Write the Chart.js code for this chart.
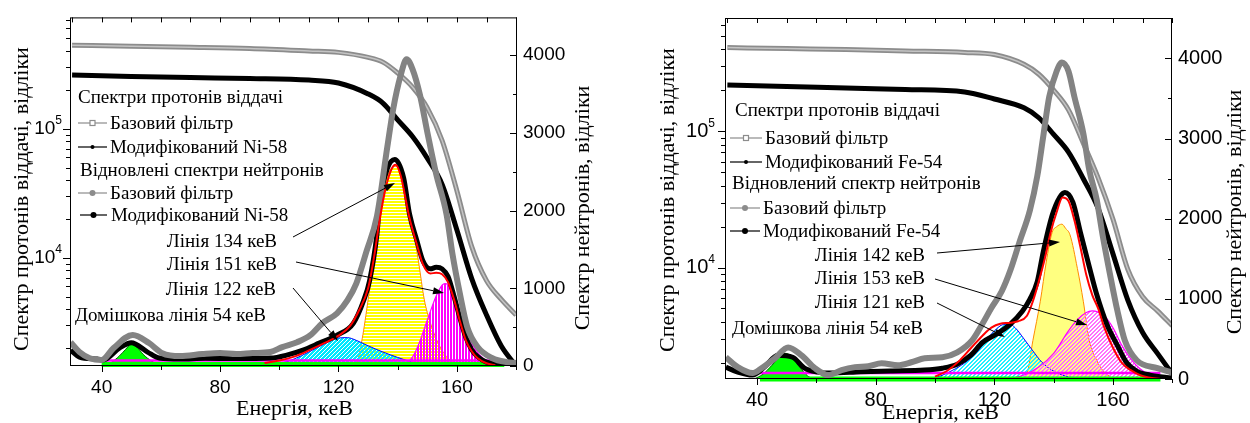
<!DOCTYPE html>
<html>
<head>
<meta charset="utf-8">
<script src="https://cdn.jsdelivr.net/npm/chart.js@4.4.1/dist/chart.umd.min.js"></script>
<style>
html, body { margin: 0; padding: 0; background: #fff; }
#wrap { position: relative; width: 1250px; height: 423px; overflow: hidden; }
canvas { position: absolute; top: 0; }
#cNi { left: 0; }
#cFe { left: 625px; }
</style>
</head>
<body>
<div id="wrap">
  <canvas id="cNi" width="625" height="423"></canvas>
  <canvas id="cFe" width="625" height="423"></canvas>
</div>
<script>
// ---- tick values ----
const energyTicks = [40, 60, 80, 100, 120, 140, 160, 180];
const neutronTicks = [0, 500, 1000, 1500, 2000, 2500, 3000, 3500, 4000];

// ---- proton recoil spectra (left log axis) ----
const protonE = [30, 50, 70, 90, 110, 120, 130, 135, 140, 145, 150, 155, 160, 165, 170, 175, 180];
const niProtonBase = [443000, 436000, 428000, 418000, 400000, 390000, 357000, 328000, 270000, 210000, 145000, 81000, 33000, 12200, 6650, 4750, 3600];
const niProtonMod = [260000, 254000, 249000, 245000, 238000, 226000, 186000, 158000, 117000, 87000, 59000, 37000, 16400, 6900, 3600, 2070, 1450];
const feProtonBase = [413000, 406000, 400000, 390000, 380000, 367000, 311000, 263000, 201000, 144000, 82000, 45600, 22600, 9700, 6100, 4800, 3730];
const feProtonMod = [219000, 214000, 208000, 203000, 195000, 173000, 149000, 126000, 95000, 70500, 44900, 27200, 12600, 5770, 3330, 2340, 1650];

// ---- Ni-58 neutron spectra (right linear axis) ----
const niNeutronBaseE = [29.5, 32.5, 36, 40, 44, 50.5, 56, 60.5, 66.5, 74, 80, 85.5, 91, 97, 101, 106, 110.5, 114.5, 119.5, 123, 126, 129.5, 133, 136.5, 138.5, 141, 143, 145, 147.5, 150, 153, 156.5, 158.5, 161, 163.5, 167, 172, 177, 180];
const niNeutronBase = [306, 180, 100, 77, 230, 400, 295, 165, 128, 153, 166, 153, 166, 180, 243, 306, 396, 549, 677, 843, 1060, 1480, 1930, 2820, 3310, 3740, 3946, 3820, 3490, 3010, 2470, 1950, 1440, 930, 500, 245, 100, 50, 40];
const niNeutronModE = [29.5, 32.5, 38.5, 40.5, 46, 50, 55.5, 59.5, 66.5, 75, 85, 97, 102.5, 108, 113.5, 119.5, 125, 128.5, 130.5, 133, 134, 136.5, 139, 142, 144, 146.5, 148.5, 151, 153, 155, 157, 159, 161, 163, 165, 167, 170, 174, 180];
const niNeutronMod = [204, 115, 89, 77, 230, 300, 179, 102, 89, 100, 95, 102, 140, 204, 294, 396, 549, 843, 1098, 1700, 2120, 2541, 2656, 2420, 1954, 1609, 1354, 1250, 1270, 1250, 1150, 900, 620, 370, 210, 120, 50, 20, 0];
const niFitE = [95, 100, 105, 110, 115, 120, 124, 127, 130, 132, 134, 136, 138, 139.3, 141, 144, 146.5, 148.5, 151, 153, 155, 157, 159, 161, 163, 165, 167, 170, 173];
const niFit = [40, 70, 120, 200, 290, 390, 520, 720, 1000, 1400, 1900, 2300, 2540, 2590, 2450, 1900, 1560, 1310, 1190, 1200, 1180, 1080, 860, 580, 330, 190, 100, 35, 8];
const niLine134E = [124, 126, 128, 130, 132, 134, 136, 138, 139.5, 141, 143, 145, 147, 149, 151, 153, 155, 157, 160, 163];
const niLine134 = [0, 30, 350, 850, 1400, 2000, 2380, 2550, 2570, 2480, 2200, 1800, 1350, 850, 560, 350, 200, 100, 25, 0];
const niLine151E = [140, 143, 145, 147, 149, 151, 153, 155, 156, 158, 160, 162, 164, 166, 168, 170, 173, 176];
const niLine151 = [0, 40, 115, 270, 480, 700, 900, 1040, 1060, 990, 750, 520, 360, 230, 130, 70, 15, 0];
const niLine122E = [95, 100, 105, 110, 115, 120, 123, 126, 130, 135, 140, 145, 150, 155];
const niLine122 = [0, 30, 90, 180, 280, 360, 365, 330, 260, 180, 110, 50, 15, 0];
const niLine54E = [40, 43, 46, 48, 50, 52, 54, 57, 60, 62];
const niLine54 = [0, 40, 130, 210, 280, 240, 150, 60, 10, 0];
const niBaseE = [40, 176];
const niBaseGreen = [20, 20];
const niBaseMagenta = [70, 70];

// ---- Fe-54 neutron spectra ----
const feNeutronBaseE = [29.5, 33.5, 38.5, 41.5, 46, 50.5, 55, 59.5, 64, 68.5, 73, 77.5, 82, 87.5, 92, 96.5, 102.5, 107.5, 112.5, 116, 119, 122.5, 125.5, 128.5, 132, 134.5, 136.5, 138.5, 141, 142.8, 145, 147, 150, 152, 154.5, 156.5, 159, 161.5, 164, 168, 175, 180];
const feNeutronBase = [271, 148, 74, 135, 258, 394, 295, 135, 49, 111, 148, 160, 197, 172, 209, 258, 271, 332, 480, 689, 886, 1095, 1366, 1711, 2105, 2535, 3028, 3520, 3840, 3950, 3840, 3520, 3065, 2609, 2240, 1797, 1305, 849, 480, 234, 135, 80];
const feNeutronModE = [29.5, 33.5, 38.5, 42.5, 47, 52, 56, 60.5, 65, 75, 85, 96.5, 102.5, 107.5, 112, 116, 121, 125.5, 129.5, 132, 134.5, 136.5, 139.5, 142, 143.8, 146.5, 149, 152, 154.5, 158, 161.5, 164.5, 168, 172.5, 180];
const feNeutronMod = [148, 86, 49, 148, 295, 271, 135, 86, 74, 90, 100, 111, 135, 185, 295, 455, 566, 689, 849, 997, 1218, 1588, 2043, 2265, 2326, 2203, 1834, 1403, 1058, 677, 418, 209, 98, 49, 12];
const feFitE = [100, 104, 108, 112, 116, 119, 122, 125, 128, 131, 133, 135, 137, 139, 141, 143, 145, 147, 149, 151, 153, 155, 157, 160, 163, 166, 169, 172, 176];
const feFit = [30, 100, 220, 380, 540, 640, 690, 700, 720, 790, 970, 1220, 1500, 1830, 2080, 2265, 2220, 1980, 1650, 1300, 1050, 880, 650, 390, 200, 110, 50, 20, 0];
const feLine142E = [128, 131, 133, 135.5, 137.5, 139.5, 141, 142.8, 144, 145.5, 148, 150, 152, 154.5, 156.5, 160];
const feLine142 = [0, 74, 480, 970, 1460, 1830, 1900, 1932, 1880, 1800, 1380, 970, 480, 234, 110, 0];
const feLine153E = [125, 130, 135, 140, 145, 148, 151, 153, 155, 157, 160, 163, 166, 169, 172, 176, 178];
const feLine153 = [0, 50, 150, 320, 600, 740, 830, 850, 835, 790, 640, 420, 250, 130, 60, 15, 0];
const feLine121E = [98, 102, 106, 110, 114, 117, 120, 123, 125, 127, 130, 133, 136, 139, 142, 146, 150];
const feLine121 = [0, 40, 110, 200, 330, 470, 600, 680, 685, 640, 500, 350, 210, 120, 60, 20, 0];
const feLine54E = [39, 42, 45, 48, 49.5, 51, 53, 55, 57, 59];
const feLine54 = [0, 60, 170, 290, 320, 300, 220, 120, 40, 0];
const feBaseE = [41, 176];
const feBaseGreen = [0, 0];
const feBaseMagenta = [75, 75];

// ---- texts ----
const xTitle = 'Енергія, кеВ';
const yTitle = 'Спектр протонів віддачі, відліки';
const y2Title = 'Спектр нейтронів, відліки';

const SERIF = "'Liberation Serif', 'Times New Roman', serif";
const SANS = "'Liberation Sans', Arial, sans-serif";

// layout of each panel (canvas-local pixels)
const niLayout = {
  xMin: 29.3, xMax: 180.3, yMin: 1450, yMax: 728000, y2Max: 4485,
  yW: 70, y2W: 108, xH: 57, top: 15, tickSize: 19, xPad: 10, powGap: 8,
  yTitleX: 22, yTitleY: 199, y2TitleX: 583, y2TitleY: 208, xTitleY: 415, xTitleDX: 1,
  texts: [
    {t: 'Спектри протонів віддачі', x: 78, y: 103},
    {t: 'Базовий фільтр', x: 110, y: 129},
    {t: 'Модифікований Ni-58', x: 110, y: 153},
    {t: 'Відновлені спектри нейтронів', x: 80, y: 176},
    {t: 'Базовий фільтр', x: 110, y: 199},
    {t: 'Модифікований Ni-58', x: 111, y: 221},
    {t: 'Лінія 134 кеВ', x: 277, y: 247, align: 'right'},
    {t: 'Лінія 151 кеВ', x: 277, y: 270, align: 'right'},
    {t: 'Лінія 122 кеВ', x: 276, y: 295, align: 'right'},
    {t: 'Домішкова лінія 54 кеВ', x: 75, y: 321}
  ],
  samples: [
    {x0: 78, x1: 107, y: 123, kind: 'sq'},
    {x0: 78, x1: 107, y: 147, kind: 'dot'},
    {x0: 78, x1: 107, y: 193, kind: 'gdot'},
    {x0: 80, x1: 107, y: 215, kind: 'diam'}
  ],
  arrows: [[293, 237, 395, 183], [296, 262, 444, 293], [293, 288, 338, 341]]
};

const feLayout = {
  xMin: 29.2, xMax: 179.9, yMin: 1517, yMax: 681000, y2Max: 4504,
  yW: 100, y2W: 78, xH: 44, top: 13, tickSize: 20, xPad: 9, powGap: 10,
  yTitleX: 43, yTitleY: 200, y2TitleX: 610, y2TitleY: 212, xTitleY: 419, xTitleDX: -8,
  texts: [
    {t: 'Спектри протонів віддачі', x: 110, y: 116},
    {t: 'Базовий фільтр', x: 140, y: 144},
    {t: 'Модифікований Fe-54', x: 140, y: 168},
    {t: 'Відновлений спектр нейтронів', x: 107, y: 189},
    {t: 'Базовий фільтр', x: 138, y: 214},
    {t: 'Модифікований Fe-54', x: 138, y: 237},
    {t: 'Лінія 142 кеВ', x: 300, y: 261, align: 'right'},
    {t: 'Лінія 153 кеВ', x: 300, y: 284, align: 'right'},
    {t: 'Лінія 121 кеВ', x: 300, y: 308, align: 'right'},
    {t: 'Домішкова лінія 54 кеВ', x: 107, y: 334}
  ],
  samples: [
    {x0: 105, x1: 137, y: 138, kind: 'sq'},
    {x0: 105, x1: 137, y: 162, kind: 'dot'},
    {x0: 105, x1: 135, y: 208, kind: 'gdot'},
    {x0: 105, x1: 135, y: 231, kind: 'diam'}
  ],
  arrows: [[312, 253, 435, 242], [310, 279, 462, 325], [312, 303, 380, 337]]
};

function pts(xs, ys) {
  return xs.map((x, i) => ({x: x, y: ys[i]}));
}

// small tiled pattern, gaps stay transparent so overlapping fills show through
function makePattern(canvasId, w, h, color, cells) {
  const c = document.createElement('canvas');
  c.width = w; c.height = h;
  const g = c.getContext('2d');
  g.fillStyle = color;
  cells.forEach(p => g.fillRect(p[0], p[1], 1, 1));
  return document.getElementById(canvasId).getContext('2d').createPattern(c, 'repeat');
}
function rowsPattern(id, color) { // horizontal stripes
  const cells = [];
  for (let x = 0; x < 4; x++) { cells.push([x, 0], [x, 1]); }
  return makePattern(id, 4, 3, color, cells);
}
function colsPattern(id, color) { // vertical stripes
  const cells = [];
  for (let y = 0; y < 4; y++) { cells.push([0, y], [1, y]); }
  return makePattern(id, 3, 4, color, cells);
}
function diagPattern(id, color, dense) {
  const cells = [];
  for (let i = 0; i < 4; i++) {
    cells.push([i, 3 - i], [i, (4 - i) % 4]);
    if (dense) cells.push([i, (5 - i) % 4]);
  }
  return makePattern(id, 4, 4, color, cells);
}

function lineDs(xs, ys, color, width, order, extra) {
  return Object.assign({
    data: pts(xs, ys), yAxisID: 'y2', borderColor: color, borderWidth: width,
    pointRadius: 0, fill: false, cubicInterpolationMode: 'monotone', order: order
  }, extra || {});
}
function fillDs(xs, ys, bg, border, width, order) {
  return lineDs(xs, ys, border, width, order, {fill: 'origin', backgroundColor: bg});
}

function drawPow(ctx, xr, y, exp, size) {
  ctx.textAlign = 'right';
  ctx.textBaseline = 'middle';
  ctx.font = Math.round(size * 0.62) + 'px ' + SANS;
  const sw = ctx.measureText(exp).width;
  ctx.fillText(exp, xr, y - 8);
  ctx.font = size + 'px ' + SANS;
  ctx.fillText('10', xr - sw, y);
}

function drawSample(ctx, s) {
  const col = (s.kind === 'sq' || s.kind === 'gdot') ? '#8c8c8c' : '#000';
  ctx.strokeStyle = col;
  ctx.lineWidth = 1.2;
  ctx.beginPath(); ctx.moveTo(s.x0, s.y); ctx.lineTo(s.x1, s.y); ctx.stroke();
  const cx = (s.x0 + s.x1) / 2;
  if (s.kind === 'sq') {
    ctx.fillStyle = '#fff';
    ctx.fillRect(cx - 2.5, s.y - 2.5, 5, 5);
    ctx.strokeRect(cx - 2.5, s.y - 2.5, 5, 5);
  } else {
    ctx.fillStyle = col;
    ctx.beginPath();
    ctx.arc(cx, s.y, s.kind === 'dot' ? 2 : 3, 0, 2 * Math.PI);
    ctx.fill();
  }
}

function drawArrow(ctx, x0, y0, x1, y1) {
  const ang = Math.atan2(y1 - y0, x1 - x0), hl = 11, hw = 3.5;
  const bx = x1 - hl * Math.cos(ang), by = y1 - hl * Math.sin(ang);
  ctx.strokeStyle = '#000'; ctx.fillStyle = '#000'; ctx.lineWidth = 1;
  ctx.beginPath(); ctx.moveTo(x0, y0); ctx.lineTo(bx, by); ctx.stroke();
  ctx.beginPath();
  ctx.moveTo(x1, y1);
  ctx.lineTo(bx - hw * Math.sin(ang), by + hw * Math.cos(ang));
  ctx.lineTo(bx + hw * Math.sin(ang), by - hw * Math.cos(ang));
  ctx.closePath(); ctx.fill();
}

function panelPlugin(L) {
  return {
    id: 'panelDecor',
    afterDatasetsDraw(chart) {
      const ctx = chart.ctx, a = chart.chartArea;
      const sx = chart.scales.x, sy = chart.scales.y, sy2 = chart.scales.y2;
      ctx.save();
      ctx.strokeStyle = '#000'; ctx.fillStyle = '#000'; ctx.lineWidth = 1;
      ctx.strokeRect(a.left + 0.5, a.top + 0.5, a.right - a.left - 1, a.bottom - a.top - 1);

      // ticks
      ctx.beginPath();
      energyTicks.forEach(e => {
        const px = Math.round(sx.getPixelForValue(e)) + 0.5;
        ctx.moveTo(px, a.bottom); ctx.lineTo(px, a.bottom + (e % 40 === 0 ? 6 : 4));
      });
      for (let e = 30; e <= 180; e += 10) {
        const px = Math.round(sx.getPixelForValue(e)) + 0.5;
        ctx.moveTo(px, a.top); ctx.lineTo(px, a.top + 5);
      }
      for (let d = 3; d <= 5; d++) {
        for (let k = 1; k <= 9; k++) {
          const v = k * Math.pow(10, d);
          if (v < L.yMin || v > L.yMax) continue;
          const py = Math.round(sy.getPixelForValue(v)) + 0.5;
          ctx.moveTo(a.left, py); ctx.lineTo(a.left - (k === 1 ? 7 : 4), py);
        }
      }
      neutronTicks.forEach(v => {
        const py = Math.round(sy2.getPixelForValue(v)) + 0.5;
        ctx.moveTo(a.right, py); ctx.lineTo(a.right - (v % 1000 === 0 ? 7 : 4), py);
      });
      ctx.stroke();

      drawPow(ctx, a.left - L.powGap, sy.getPixelForValue(1e4), '4', L.tickSize);
      drawPow(ctx, a.left - L.powGap, sy.getPixelForValue(1e5), '5', L.tickSize);

      // axis titles
      ctx.font = '22px ' + SERIF;
      ctx.textAlign = 'center';
      ctx.textBaseline = 'alphabetic';
      ctx.fillText(xTitle, (a.left + a.right) / 2 + L.xTitleDX, L.xTitleY);
      ctx.textBaseline = 'middle';
      ctx.save(); ctx.translate(L.yTitleX, L.yTitleY); ctx.rotate(-Math.PI / 2); ctx.fillText(yTitle, 0, 0); ctx.restore();
      ctx.save(); ctx.translate(L.y2TitleX, L.y2TitleY); ctx.rotate(-Math.PI / 2); ctx.fillText(y2Title, 0, 0); ctx.restore();

      // legend block and line labels
      ctx.font = '19px ' + SERIF;
      ctx.textBaseline = 'alphabetic';
      L.texts.forEach(t => {
        ctx.textAlign = t.align || 'left';
        ctx.fillText(t.t, t.x, t.y);
      });
      L.samples.forEach(s => drawSample(ctx, s));
      L.arrows.forEach(r => drawArrow(ctx, r[0], r[1], r[2], r[3]));
      ctx.restore();
    }
  };
}

function buildChart(id, L, sets) {
  const tickFont = {family: SANS, size: L.tickSize};
  return new Chart(document.getElementById(id), {
    type: 'line',
    data: {datasets: sets},
    options: {
      responsive: false,
      animation: false,
      devicePixelRatio: 1,
      events: [],
      layout: {padding: {top: L.top, left: 0, right: 0, bottom: 0}},
      plugins: {legend: {display: false}, tooltip: {enabled: false}},
      scales: {
        x: {
          type: 'linear', min: L.xMin, max: L.xMax,
          grid: {display: false, drawTicks: false}, border: {display: false},
          ticks: {autoSkip: false, maxRotation: 0, padding: L.xPad, color: '#000', font: tickFont,
            callback: v => (v % 40 === 0 ? String(v) : '')},
          afterBuildTicks: s => { s.ticks = energyTicks.map(v => ({value: v})); },
          afterFit: s => { s.height = L.xH; }
        },
        y: {
          type: 'logarithmic', position: 'left', min: L.yMin, max: L.yMax,
          grid: {display: false, drawTicks: false}, border: {display: false},
          ticks: {display: false},
          afterFit: s => { s.width = L.yW; }
        },
        y2: {
          type: 'linear', position: 'right', min: 0, max: L.y2Max,
          grid: {display: false, drawTicks: false}, border: {display: false},
          ticks: {autoSkip: false, padding: 6, color: '#000', font: tickFont,
            callback: v => (v % 1000 === 0 ? String(v) : '')},
          afterBuildTicks: s => { s.ticks = neutronTicks.map(v => ({value: v})); },
          afterFit: s => { s.width = L.y2W; }
        }
      }
    },
    plugins: [panelPlugin(L)]
  });
}

// ---- Ni-58 panel ----
buildChart('cNi', niLayout, [
  lineDs(niFitE, niFit, '#ff0000', 2, 0),
  lineDs(niNeutronBaseE, niNeutronBase, '#838383', 6, 1),
  lineDs(niNeutronModE, niNeutronMod, '#000', 5, 2),
  lineDs(protonE, niProtonBase, '#c4c4c4', 1.5, 3, {yAxisID: 'y'}),
  lineDs(protonE, niProtonBase, '#8c8c8c', 5, 4, {yAxisID: 'y'}),
  lineDs(protonE, niProtonMod, '#000', 5, 5, {yAxisID: 'y'}),
  lineDs(niBaseE, niBaseMagenta, '#ff00ff', 2.5, 6),
  lineDs(niBaseE, niBaseGreen, '#00ff00', 5, 7, {clip: 6}),
  fillDs(niLine54E, niLine54, '#00ff00', '#006000', 1, 8),
  fillDs(niLine151E, niLine151, colsPattern('cNi', '#ff00ff'), '#ff00ff', 1.2, 9),
  fillDs(niLine122E, niLine122, diagPattern('cNi', '#00e8ff', true), '#0000ff', 1, 10),
  fillDs(niLine134E, niLine134, rowsPattern('cNi', '#ffff00'), '#ff8c00', 1, 11)
]);

// ---- Fe-54 panel ----
buildChart('cFe', feLayout, [
  lineDs(feFitE, feFit, '#ff0000', 2, 0),
  lineDs(feNeutronBaseE, feNeutronBase, '#838383', 6, 1),
  lineDs(feNeutronModE, feNeutronMod, '#000', 5, 2),
  lineDs(protonE, feProtonBase, '#c4c4c4', 1.5, 3, {yAxisID: 'y'}),
  lineDs(protonE, feProtonBase, '#8c8c8c', 5, 4, {yAxisID: 'y'}),
  lineDs(protonE, feProtonMod, '#000', 5, 5, {yAxisID: 'y'}),
  lineDs(feBaseE, feBaseMagenta, '#ff00ff', 2.5, 6),
  lineDs(feBaseE, feBaseGreen, '#00ff00', 5, 7, {clip: 6}),
  fillDs(feLine54E, feLine54, '#00ff00', '#006000', 1, 8),
  fillDs(feLine153E, feLine153, diagPattern('cFe', '#ff70ff', false), '#ff00ff', 1.2, 9),
  fillDs(feLine121E, feLine121, diagPattern('cFe', '#20f0ff', false), '#0000ff', 1, 10),
  fillDs(feLine142E, feLine142, '#ffff80', '#ff8c00', 1, 11)
]);
</script>
</body>
</html>
